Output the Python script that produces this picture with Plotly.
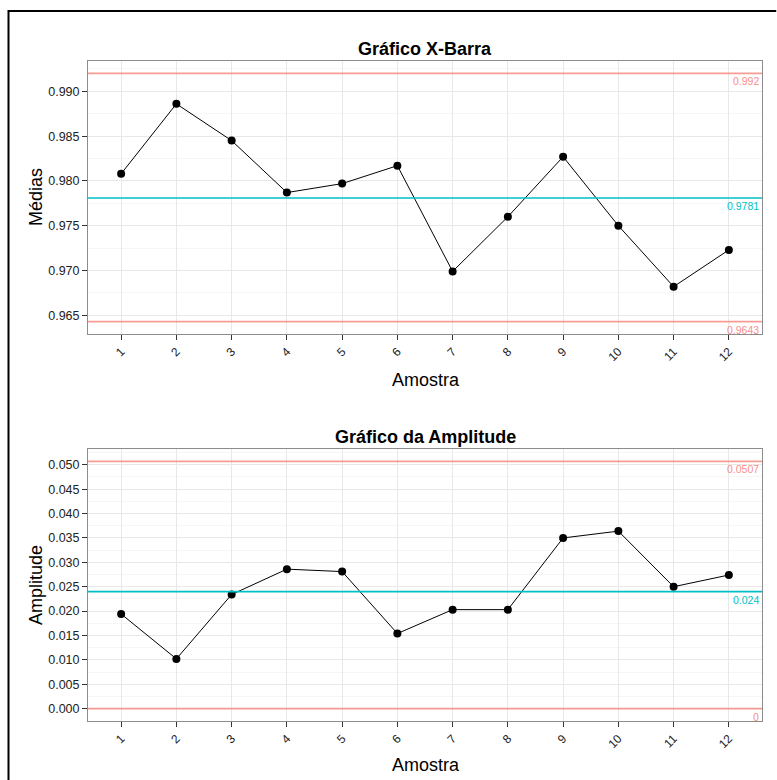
import plotly.graph_objects as go

# ---------------- data ----------------
amostra = list(range(1, 13))
amostra_labels = [str(a) for a in amostra]

medias = [0.9808, 0.9886, 0.9845, 0.9787, 0.9797, 0.9817,
          0.9699, 0.9760, 0.9827, 0.9750, 0.9682, 0.9723]
amplitudes = [0.0194, 0.0102, 0.0234, 0.0286, 0.0281, 0.0154,
              0.0203, 0.0203, 0.0350, 0.0364, 0.0250, 0.0274]

xbar_limites = [0.992, 0.9781, 0.9643]   # LSC, LC, LIC
r_limites = [0.0507, 0.024, 0]           # LSC, LC, LIC

titulo_xbar = "Gráfico X-Barra"
titulo_r = "Gráfico da Amplitude"
ytitulo_xbar = "Médias"
ytitulo_r = "Amplitude"
xtitulo = "Amostra"

# ---------------- layout helpers ----------------
W, H = 777, 780
def fx(p):
    return p / W
def fy(p):
    return 1 - p / H

RED = "rgba(248,118,109,0.72)"
RED_TXT = "rgba(248,118,109,0.85)"
CYAN = "#00BFC4"
lim_colors = [RED, CYAN, RED]
lim_txt_colors = [RED_TXT, CYAN, RED_TXT]
FONT = "Liberation Sans, Arial, Helvetica, sans-serif"

xdom = [fx(88), fx(762)]
top_dom = [fy(334), fy(61)]
bot_dom = [fy(721), fy(449)]

fig = go.Figure()

fig.add_trace(go.Scatter(x=amostra, y=medias, mode="lines+markers",
                         line=dict(color="black", width=1),
                         marker=dict(color="black", size=8),
                         xaxis="x", yaxis="y", hoverinfo="x+y"))
fig.add_trace(go.Scatter(x=amostra, y=amplitudes, mode="lines+markers",
                         line=dict(color="black", width=1),
                         marker=dict(color="black", size=8),
                         xaxis="x2", yaxis="y2", hoverinfo="x+y"))

shapes = []
annotations = []
for (xr, yr, lims) in [("x", "y", xbar_limites), ("x2", "y2", r_limites)]:
    for v, c, tc in zip(lims, lim_colors, lim_txt_colors):
        shapes.append(dict(type="line", xref=xr, yref=yr,
                           x0=0.4, x1=12.6, y0=v, y1=v,
                           line=dict(color=c, width=1.6), layer="above"))
        annotations.append(dict(xref=xr, yref=yr, x=12.6, y=v,
                                xanchor="right", yanchor="top",
                                text=f"{v:g}", showarrow=False,
                                xshift=-1, yshift=0,
                                font=dict(family=FONT, size=10.5, color=tc)))

# outer border (partial frame of the original figure), drawn as an open path
shapes.append(dict(type="path", xref="paper", yref="paper",
                   path=f"M {fx(8.5)} 0 L {fx(8.5)} {fy(11)} L 0.999 {fy(11)}",
                   line=dict(color="black", width=2)))

# panel titles
for t, dom in [(titulo_xbar, top_dom), (titulo_r, bot_dom)]:
    annotations.append(dict(xref="paper", yref="paper", x=fx(425), y=dom[1],
                            xanchor="center", yanchor="bottom", text=f"<b>{t}</b>",
                            showarrow=False,
                            font=dict(family=FONT, size=18, color="black")))
# axis titles
annotations.append(dict(xref="paper", yref="paper", x=fx(426), y=fy(380),
                        xanchor="center", yanchor="middle", text=xtitulo,
                        showarrow=False, font=dict(family=FONT, size=18, color="black")))
annotations.append(dict(xref="paper", yref="paper", x=fx(426), y=fy(765),
                        xanchor="center", yanchor="middle", text=xtitulo,
                        showarrow=False, font=dict(family=FONT, size=18, color="black")))
annotations.append(dict(xref="paper", yref="paper", x=fx(36), y=fy(197),
                        xanchor="center", yanchor="middle", text=ytitulo_xbar,
                        textangle=-90, showarrow=False,
                        font=dict(family=FONT, size=18, color="black")))
annotations.append(dict(xref="paper", yref="paper", x=fx(36), y=fy(585),
                        xanchor="center", yanchor="middle", text=ytitulo_r,
                        textangle=-90, showarrow=False,
                        font=dict(family=FONT, size=18, color="black")))

common_x = dict(domain=xdom, range=[0.4, 12.6], tickmode="array",
                tickvals=amostra, ticktext=amostra_labels, tickangle=-45,
                ticks="outside", ticklen=5, tickcolor="#333333",
                tickfont=dict(family=FONT, size=12, color="#222222"),
                showgrid=True, gridcolor="#E8E8E8", gridwidth=1,
                zeroline=False, showline=True, linecolor="#8C8C8C",
                linewidth=1, mirror=True)
common_y = dict(tick0=0, dtick=0.005, tickformat=".3f",
                ticks="outside", ticklen=5, tickcolor="#333333",
                tickfont=dict(family=FONT, size=12.5, color="#222222"),
                showgrid=True, gridcolor="#E8E8E8", gridwidth=1,
                minor=dict(tick0=0, dtick=0.0025, showgrid=True,
                           gridcolor="#F6F6F6", ticks=""),
                zeroline=False, showline=True, linecolor="#8C8C8C",
                linewidth=1, mirror=True)

fig.update_layout(
    width=W, height=H,
    margin=dict(l=0, r=0, t=0, b=0),
    paper_bgcolor="white", plot_bgcolor="white",
    showlegend=False,
    font=dict(family=FONT),
    xaxis=dict(common_x, anchor="y"),
    yaxis=dict(common_y, domain=top_dom, range=[0.962915, 0.993385], anchor="x"),
    xaxis2=dict(common_x, anchor="y2"),
    yaxis2=dict(common_y, domain=bot_dom, range=[-0.002535, 0.053235], anchor="x2"),
    shapes=shapes,
    annotations=annotations,
)

fig.write_html("out.html", config={"displayModeBar": False},
               post_script=("document.body.style.margin='0px';"
                            "document.body.style.overflow='hidden';"))
